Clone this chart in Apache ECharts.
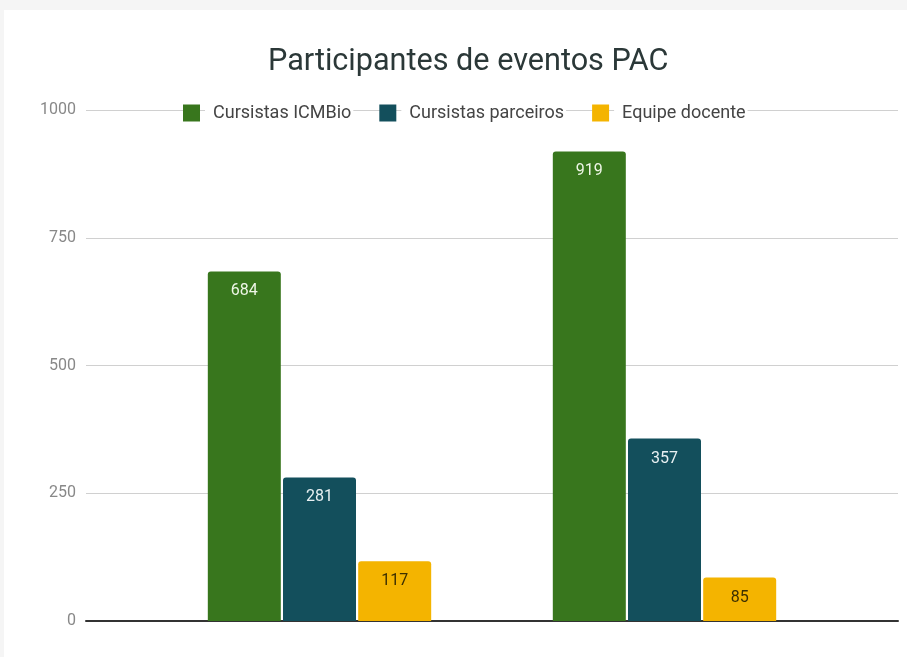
<!DOCTYPE html>
<html>
<head>
<meta charset="utf-8">
<script src="https://cdn.jsdelivr.net/npm/echarts@6/dist/echarts.min.js"></script>
<style>
  body{margin:0;background:#f5f5f5;}
  #chart{position:absolute;left:4px;top:10px;width:903px;height:647px;background:#fff;}
</style>
</head>
<body>
<div id="chart"></div>
<script>
  // categories (no labels shown on the x axis)
  var categories = ['Evento 1', 'Evento 2'];
  var icmbio = [684, 919];
  var parceiros = [281, 357];
  var docentes = [117, 85];
  var yTicks = [0, 250, 500, 750, 1000];

  var chart = echarts.init(document.getElementById('chart'));

  function barSeries(name, data, color, labelColor){
    return {
      name: name,
      type: 'bar',
      xAxisIndex: 1,
      yAxisIndex: 1,
      barWidth: 73,
      barGap: '3%',
      data: data,
      itemStyle: {color: color, borderRadius: [3, 3, 0, 0]},
      label: {
        show: true,
        position: 'insideTop',
        distance: 12,
        color: labelColor,
        fontSize: 16,
        fontFamily: 'Roboto'
      }
    };
  }

  var option = {
    animation: false,
    title: {
      text: 'Participantes de eventos PAC',
      left: 259,
      top: 32,
      textStyle: {fontFamily: 'Roboto', fontSize: 30.6, fontWeight: 'normal', color: '#2b3838'}
    },
    legend: {
      top: 87,
      left: 174,
      itemWidth: 17,
      itemHeight: 17,
      itemGap: 26,
      icon: 'rect',
      data: ['Cursistas ICMBio', 'Cursistas parceiros', 'Equipe docente'],
      textStyle: {
        fontFamily: 'Roboto', fontSize: 18, color: '#444',
        backgroundColor: '#fff', padding: [2, 2, 2, 8]
      }
    },
    grid: [
      {left: 82, right: 9, top: 100, bottom: 36},
      {left: 143, right: 70, top: 100, bottom: 36}
    ],
    xAxis: [
      {
        type: 'category', gridIndex: 0, data: categories,
        axisLine: {lineStyle: {color: '#333', width: 2}},
        axisTick: {show: false},
        axisLabel: {show: false}
      },
      {
        type: 'category', gridIndex: 1, data: categories,
        axisLine: {show: false}, axisTick: {show: false}, axisLabel: {show: false}
      }
    ],
    yAxis: [
      {
        type: 'value', gridIndex: 0, min: yTicks[0], max: yTicks[yTicks.length - 1], interval: 250,
        axisLine: {show: false}, axisTick: {show: false},
        axisLabel: {color: '#888', fontSize: 16, fontFamily: 'Roboto', margin: 10,
          formatter: function(v){ return String(v); }},
        splitLine: {lineStyle: {color: '#d0d0d0', width: 1}}
      },
      {
        type: 'value', gridIndex: 1, min: 0, max: 1000,
        axisLine: {show: false}, axisTick: {show: false},
        axisLabel: {show: false}, splitLine: {show: false}
      }
    ],
    series: [
      barSeries('Cursistas ICMBio', icmbio, '#38761d', '#eef6e6'),
      barSeries('Cursistas parceiros', parceiros, '#134f5c', '#e8f0f2'),
      barSeries('Equipe docente', docentes, '#f4b400', '#3d3000')
    ]
  };
  chart.setOption(option);
</script>
</body>
</html>
